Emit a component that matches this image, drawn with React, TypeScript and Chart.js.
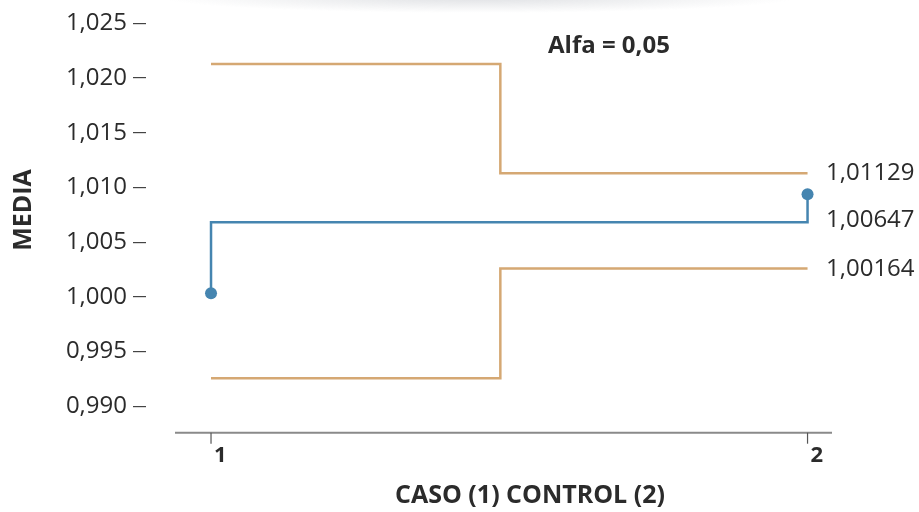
import React, { useEffect, useRef } from "react";
import { Chart, registerables } from "chart.js";

Chart.register(...registerables);

// ---- data ----
const groups = [1, 2];
const groupLabels = ["1", "2"];
const means = [1.00032, 1.00937];
const centerLine = 1.00682;
const upperLimits = [1.02128, 1.01129];
const lowerLimits = [0.99255, 1.00259];
const stepX = 1.485;
const limitLabels = ["1,01129", "1,00647", "1,00164"];
const yTicks = [0.99, 0.995, 1.0, 1.005, 1.01, 1.015, 1.02, 1.025];
const alphaText = "Alfa = 0,05";
const xTitle = "CASO (1) CONTROL (2)";
const yTitle = "MEDIA";

const FONT = "'Open Sans', 'Noto Sans', sans-serif";
const BLUE = "#4585b0";
const ORANGE = "#d5a873";
const TEXT = "#2b2b2b";

const decorPlugin = {
  id: "decor",
  beforeDraw(chart: any) {
    const { ctx } = chart;
    ctx.save();
    ctx.setTransform(1, 0, 0, 0.05, 0, 0);
    const g = ctx.createRadialGradient(480, -60, 10, 480, -60, 320);
    g.addColorStop(0, "rgba(150,155,165,0.30)");
    g.addColorStop(1, "rgba(150,155,165,0)");
    ctx.fillStyle = g;
    ctx.fillRect(0, 0, 919, 400);
    ctx.restore();
  },
  afterDraw(chart: any) {
    const { ctx, chartArea } = chart;
    const xs = chart.scales.x;
    const ys = chart.scales.y;
    ctx.save();
    // x axis line
    const axY = chartArea.bottom;
    ctx.strokeStyle = "#8a8a8a";
    ctx.lineWidth = 2;
    ctx.beginPath();
    ctx.moveTo(chartArea.left + 29, axY);
    ctx.lineTo(chartArea.right, axY);
    ctx.stroke();
    // x ticks + labels
    ctx.strokeStyle = "#555";
    ctx.lineWidth = 1.2;
    ctx.fillStyle = TEXT;
    ctx.font = `bold 22px ${FONT}`;
    ctx.textAlign = "left";
    ctx.textBaseline = "alphabetic";
    groups.forEach((gv, i) => {
      const px = xs.getPixelForValue(gv);
      ctx.beginPath();
      ctx.moveTo(px, axY);
      ctx.lineTo(px, axY + 11);
      ctx.stroke();
      ctx.fillText(groupLabels[i], px + 3, axY + 29);
    });
    // x title
    ctx.font = `bold 25px ${FONT}`;
    ctx.textAlign = "center";
    ctx.fillText(xTitle, 530, 503);
    // y title
    ctx.save();
    ctx.translate(31, 210);
    ctx.rotate(-Math.PI / 2);
    ctx.textAlign = "center";
    ctx.textBaseline = "alphabetic";
    ctx.fillText(yTitle, 0, 0);
    ctx.restore();
    // alpha
    ctx.font = `bold 24px ${FONT}`;
    ctx.textAlign = "left";
    ctx.fillText(alphaText, 548, 53);
    // right labels
    ctx.font = `24px ${FONT}`;
    ctx.fillStyle = TEXT;
    const lx = 826;
    ctx.fillText(limitLabels[0], lx, ys.getPixelForValue(upperLimits[1]) + 7);
    ctx.fillText(limitLabels[1], lx, ys.getPixelForValue(centerLine) + 4.5);
    ctx.fillText(limitLabels[2], lx, ys.getPixelForValue(lowerLimits[1]) + 7.5);
    ctx.restore();
  },
};

export default function App() {
  const ref = useRef<HTMLCanvasElement | null>(null);
  useEffect(() => {
    document.body.style.margin = "0";
    const canvas = ref.current!;
    const chart = new Chart(canvas, {
      type: "scatter",
      data: {
        datasets: [
          {
            data: [
              { x: groups[0], y: upperLimits[0] },
              { x: stepX, y: upperLimits[0] },
              { x: stepX, y: upperLimits[1] },
              { x: groups[1], y: upperLimits[1] },
            ],
            showLine: true,
            borderColor: ORANGE,
            borderWidth: 2.5,
            pointRadius: 0,
            borderCapStyle: "butt",
          },
          {
            data: [
              { x: groups[0], y: lowerLimits[0] },
              { x: stepX, y: lowerLimits[0] },
              { x: stepX, y: lowerLimits[1] },
              { x: groups[1], y: lowerLimits[1] },
            ],
            showLine: true,
            borderColor: ORANGE,
            borderWidth: 2.5,
            pointRadius: 0,
          },
          {
            data: [
              { x: groups[0], y: means[0] },
              { x: groups[0], y: centerLine },
              { x: groups[1], y: centerLine },
              { x: groups[1], y: means[1] },
            ],
            showLine: true,
            borderColor: BLUE,
            borderWidth: 2.5,
            pointRadius: [6, 0, 0, 6],
            pointBackgroundColor: BLUE,
            pointBorderWidth: 0,
          },
        ],
      },
      options: {
        animation: false,
        responsive: true,
        maintainAspectRatio: false,
        layout: { padding: { top: 23.3, bottom: 79.3, left: 0, right: 87 } },
        plugins: { legend: { display: false }, tooltip: { enabled: false } },
        scales: {
          x: {
            type: "linear",
            display: false,
            min: 0.891,
            max: 2.041,
          },
          y: {
            type: "linear",
            min: 0.987578,
            max: 1.025,
            afterBuildTicks: (scale: any) => {
              scale.ticks = yTicks.map((v) => ({ value: v }));
            },
            afterFit: (scale: any) => {
              scale.width = 146;
            },
            border: { display: false },
            grid: {
              drawOnChartArea: false,
              drawTicks: true,
              tickLength: 13,
              color: "#444",
              lineWidth: 1.2,
            },
            ticks: {
              padding: 6,
              color: TEXT,
              font: { family: FONT, size: 24 },
              callback: (v: any) => Number(v).toFixed(3).replace(".", ","),
            },
          },
        },
      },
      plugins: [decorPlugin],
    });
    return () => chart.destroy();
  }, []);
  return (
    <div style={{ position: "fixed", left: 0, top: 0, width: 919, height: 512, background: "#fff" }}>
      <canvas ref={ref} />
    </div>
  );
}
